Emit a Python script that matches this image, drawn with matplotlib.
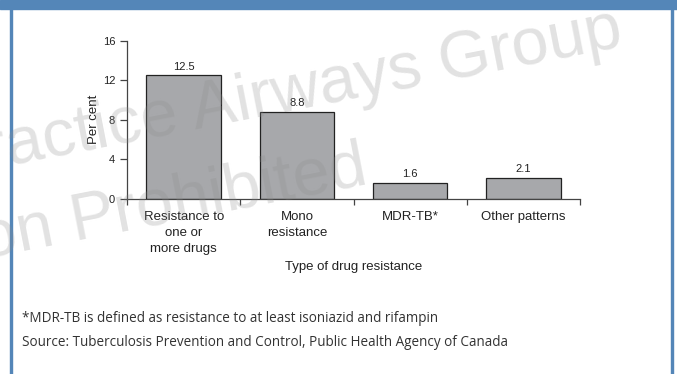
import matplotlib
matplotlib.use("Agg")
import matplotlib.pyplot as plt
from matplotlib.patches import Rectangle

plt.rcParams['font.family'] = ['Liberation Sans', 'DejaVu Sans']

categories = ["Resistance to\none or\nmore drugs", "Mono\nresistance", "MDR-TB*", "Other patterns"]
percent = [12.5, 8.8, 1.6, 2.1]
value_labels = ["12.5", "8.8", "1.6", "2.1"]
yticks = [0, 4, 8, 12, 16]
footnote = "*MDR-TB is defined as resistance to at least isoniazid and rifampin"
source = "Source: Tuberculosis Prevention and Control, Public Health Agency of Canada"

W, H = 677, 374
fig = plt.figure(figsize=(W / 100, H / 100), dpi=100)
fig.patch.set_facecolor('white')

def px(x, y):
    # pixel coords (from top-left) -> figure fraction
    return x / W, 1 - y / H

blue = '#5486b8'
# frame: top band + side borders
fig.patches.append(Rectangle(px(0, 9), 1, 9 / H, transform=fig.transFigure, color=blue, zorder=0))
fig.patches.append(Rectangle(px(9.5, H), 2.5 / W, 1, transform=fig.transFigure, color=blue, zorder=0))
fig.patches.append(Rectangle(px(670.5, H), 2.5 / W, 1, transform=fig.transFigure, color=blue, zorder=0))

ax = fig.add_axes([127 / W, 1 - 198.7 / H, 453 / W, 158 / H])
ax.patch.set_alpha(0)
x = list(range(len(categories)))
bars = ax.bar(x, percent, width=0.66, color='#a7a8ab', edgecolor='#222222', linewidth=0.9, zorder=2)
for b, lab in zip(bars, value_labels):
    ax.annotate(lab, (b.get_x() + b.get_width() / 2, b.get_height()), xytext=(0, 2.5),
                textcoords='offset points', ha='center', va='bottom', fontsize=8, color='#222222')

ax.set_xlim(-0.5, len(categories) - 0.5)
ax.set_ylim(0, 16)
ax.set_yticks(yticks)
ax.set_xticks(x)
ax.set_xticklabels(categories, fontsize=9.5, color='#222222', linespacing=1.45)
ax.set_xticks([i - 0.5 for i in range(len(categories) + 1)], minor=True)
ax.tick_params(axis='x', which='major', length=0, pad=8.5)
ax.tick_params(axis='x', which='minor', length=4, width=0.9, color='#444444', direction='out')
ax.tick_params(axis='y', length=5, width=0.9, color='#444444', pad=3.5, labelsize=8, labelcolor='#222222')
for s in ['top', 'right']:
    ax.spines[s].set_visible(False)
for s in ['left', 'bottom']:
    ax.spines[s].set_color('#444444')
    ax.spines[s].set_linewidth(0.9)

ax.set_xlabel("Type of drug resistance", fontsize=9.5, color='#222222')
ax.xaxis.set_label_coords(0.5, -0.395)
ax.set_ylabel("Per cent", fontsize=9.5, color='#222222')
ax.yaxis.set_label_coords(-27 / 453, 0.5)

fig.text(22 / W, 1 - 318.5 / H, footnote, fontsize=9.75, family=['Open Sans', 'DejaVu Sans'],
         color='#333333', va='center', ha='left')
fig.text(22 / W, 1 - 342.5 / H, source, fontsize=9.75, family=['Open Sans', 'DejaVu Sans'],
         color='#333333', va='center', ha='left')

# watermark
wm = dict(color='#8c8c8c', alpha=0.25, rotation=11, rotation_mode='anchor',
          va='baseline', ha='right', transform=fig.transFigure, zorder=10)
fig.text(*px(625, 46), "Practice Airways Group", fontsize=48, **wm)
fig.text(*px(369, 184), "Reproduction Prohibited", fontsize=48, **wm)

fig.savefig("out.png", dpi=100, facecolor='white')
